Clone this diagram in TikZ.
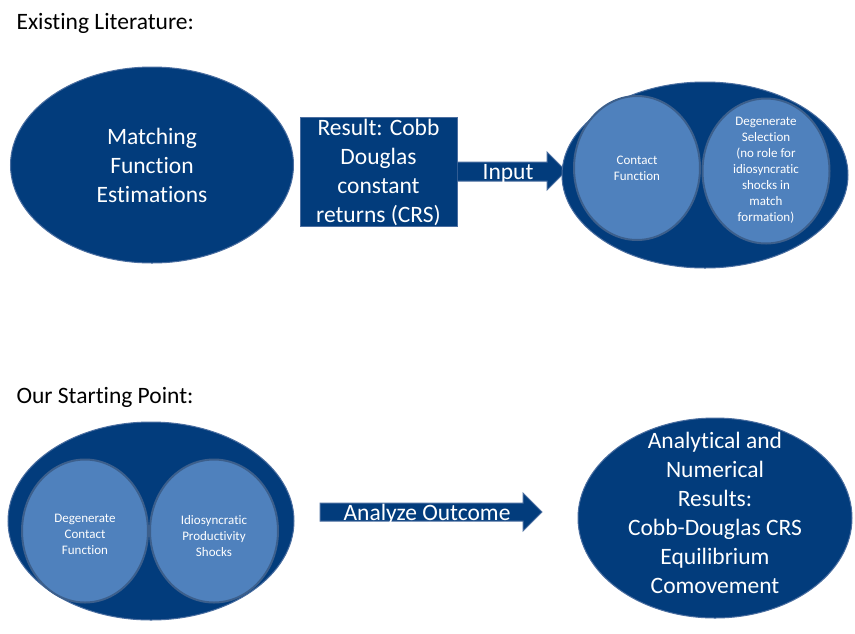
\documentclass[tikz,border=0pt]{standalone}
\usepackage{fontspec}
\setmainfont[Ligatures=NoCommon]{Carlito}
\usetikzlibrary{shapes.geometric}
\definecolor{dkblue}{RGB}{2,60,124}
\definecolor{ltblue}{RGB}{79,129,189}
\definecolor{edgeblue}{RGB}{60,95,140}
\definecolor{rimblue}{RGB}{75,110,160}
\tikzset{
  outer/.style={ellipse,fill=dkblue,draw=rimblue,line width=1pt,inner sep=0pt},
  inner/.style={ellipse,fill=ltblue,draw=edgeblue,line width=2pt,inner sep=0pt},
  bigtxt/.style={text=white,align=center,font=\fontsize{23.5}{29}\selectfont},
  smalltxt/.style={text=white,align=center,font=\fontsize{13}{16}\selectfont},
  heading/.style={anchor=base west,font=\fontsize{23.5}{29}\selectfont},
  blockarrow/.style={fill=dkblue,draw=rimblue,line width=1pt},
}
\begin{document}
\begin{tikzpicture}[x=1pt,y=-1pt]
\useasboundingbox (0,0) rectangle (855,633);
% headings
\node[heading] (h1) at (13,29) {Existing Literature:};
\node[heading] (h2) at (13,403) {Our Starting Point:};
% top row
\node[outer,minimum width=283pt,minimum height=196pt] (mfe) at (152,165) {};
\node[bigtxt] (mfetext) at (152,165) {Matching\\Function\\Estimations};
\node[draw=rimblue,line width=1pt,fill=dkblue,minimum width=157pt,minimum height=109pt,inner sep=0pt] (box) at (378.5,171.5) {};
\node[bigtxt] (boxtext) at (378.5,172) {Result: Cobb\\Douglas\\constant\\returns (CRS)};
% Input arrow
\draw[blockarrow] (box.east |- 0,162) -- (547,162) -- (547,152) -- (566,171) -- (547,190) -- (547,181) -- (box.east |- 0,181) ;
\node[text=white,font=\fontsize{23.5}{29}\selectfont,anchor=base] (input) at (508,179) {Input};
\node[outer,minimum width=286pt,minimum height=186pt] (lit) at (705,175) {};
\node[inner,minimum width=126pt,minimum height=144pt] (contact) at (637,168) {};
\node[smalltxt] (contacttext) at (637,168) {Contact\\Function};
\node[inner,minimum width=127pt,minimum height=145pt] (degsel) at (766,171) {};
\node[smalltxt] (degseltext) at (766,170) {Degenerate\\Selection\\(no role for\\idiosyncratic\\shocks in\\match\\formation)};
% bottom row
\node[outer,minimum width=286pt,minimum height=198pt] (start) at (151,521) {};
\node[inner,minimum width=126pt,minimum height=143pt] (dcf) at (85,531) {};
\node[smalltxt] (dcftext) at (85,534) {Degenerate\\Contact\\Function};
\node[inner,minimum width=128pt,minimum height=143pt] (ips) at (214,531) {};
\node[smalltxt] (ipstext) at (214,536) {Idiosyncratic\\Productivity\\Shocks};
\node[outer,minimum width=274pt,minimum height=200pt] (res) at (715,518) {};
\node[bigtxt] (restext) at (715,513) {Analytical and\\Numerical\\Results:\\Cobb-Douglas CRS\\Equilibrium\\Comovement};
% Analyze arrow
\draw[blockarrow] (320,503) -- (523,503) -- (523,493) -- (542,512) -- (523,531) -- (523,521) -- (320,521) -- cycle;
\node[text=white,font=\fontsize{23.5}{29}\selectfont,anchor=base] (analyze) at (427,520) {Analyze Outcome};
\end{tikzpicture}
\end{document}
